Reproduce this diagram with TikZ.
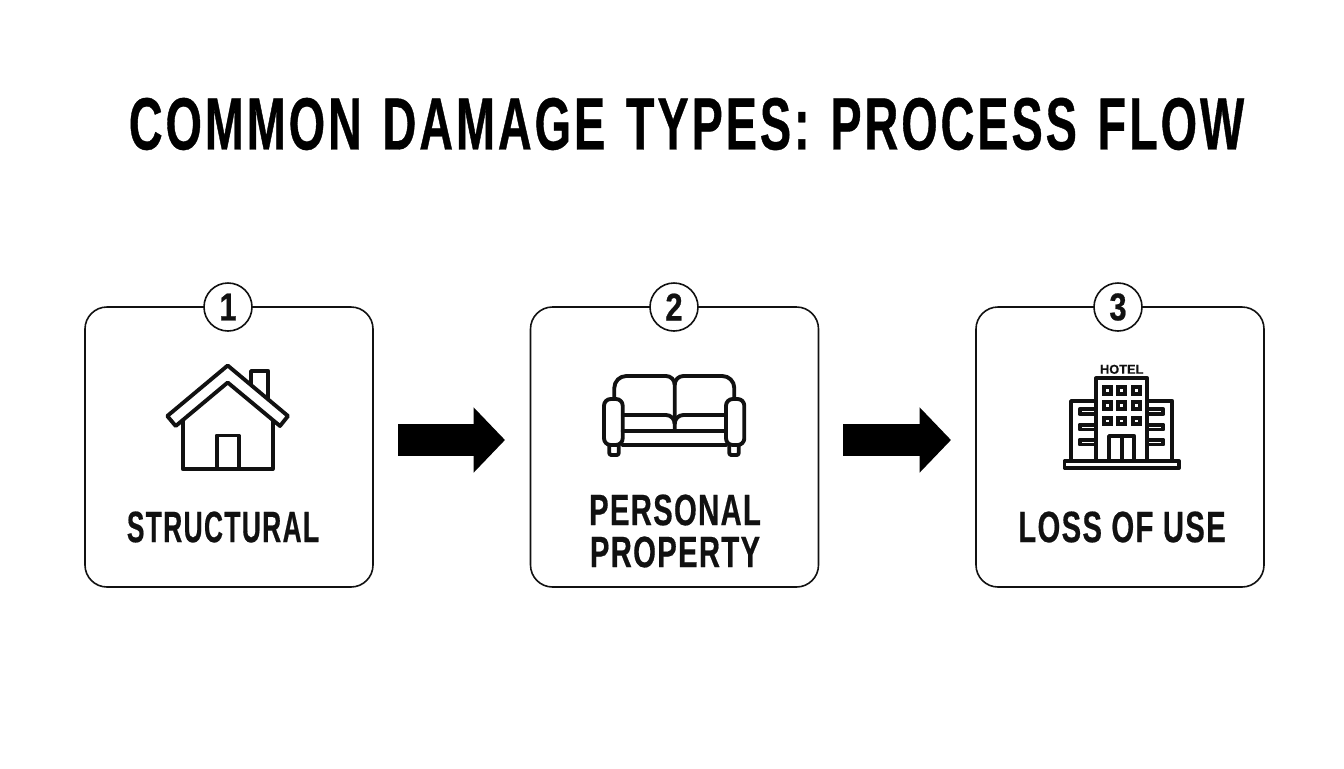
\documentclass[tikz,border=0pt]{standalone}
\usepackage{fontspec}
\setmainfont{Liberation Sans}
\newfontfamily\titlefont[FakeStretch=0.632,LetterSpace=4,FakeBold=0.5,WordSpace=1.3]{Liberation Sans Bold}
\newfontfamily\labelA[FakeStretch=0.60,LetterSpace=3,FakeBold=0.4]{Liberation Sans Bold}
\newfontfamily\labelB[FakeStretch=0.665,LetterSpace=3,FakeBold=0.4]{Liberation Sans Bold}
\newfontfamily\digitfont[FakeStretch=0.8,FakeBold=0.6]{Liberation Sans Bold}
\newfontfamily\signfont[FakeBold=0.4]{Liberation Sans Bold}
\usetikzlibrary{arrows.meta}
\definecolor{ink}{HTML}{111111}
\tikzset{
  card/.style={draw=ink,line width=1.2pt,rounded corners=16.5pt,fill=white,minimum width=216pt,minimum height=210pt,inner sep=0pt},
  badge/.style={circle,draw=ink,line width=1.2pt,fill=white,minimum size=36pt,inner sep=0pt,font=\digitfont\fontsize{29}{29}\selectfont,text=ink},
  lbl/.style={align=center,text=ink,font=\labelB\fontsize{33}{31.5}\selectfont},
  icon/.style={draw=ink,line width=2.9pt,line join=round,line cap=round},
  win/.style={draw=ink,line width=2.9pt,line join=miter,fill=white},
  flow/.style={draw=black,line width=24pt,-{Triangle[length=23.5pt,width=47.5pt,fill=black]}}
}
\begin{document}
\begin{tikzpicture}[x=0.75pt,y=-0.75pt]
\useasboundingbox (0,0) rectangle (1344,768);
\fill[white] (0,0) rectangle (1344,768);
\node[text=black,anchor=center,font=\titlefont\fontsize{55.5}{55.5}\selectfont] (title) at (686.5,124) {COMMON DAMAGE TYPES: PROCESS FLOW};
% cards
\node[card] (c1) at (229,447) {};
\node[card] (c2) at (674.5,447) {};
\node[card] (c3) at (1120,447) {};
\node[badge] (b1) at (228,307) {1};
\node[badge] (b2) at (674,307) {2};
\node[badge] (b3) at (1118,307) {3};
\node[lbl,font=\labelA\fontsize{33}{31.5}\selectfont] (l1) at (223,527) {STRUCTURAL};
\node[lbl] (l2) at (675,531) {PERSONAL\\PROPERTY};
\node[lbl] (l3) at (1122,527) {LOSS OF USE};
% arrows
\coordinate (a1s) at (398,440); \coordinate (a1e) at (505,440);
\coordinate (a2s) at (843,440); \coordinate (a2e) at (951,440);
\draw[flow] (a1s) -- (a1e);
\draw[flow] (a2s) -- (a2e);
% house
\draw[icon] (251,385) -- (251,371) -- (268.3,371) -- (268.3,398);
\draw[icon] (182.7,420) -- (182.7,469) -- (272.7,469) -- (272.7,420);
\draw[icon] (216.7,469) -- (216.7,435.5) -- (239,435.5) -- (239,469);
\draw[icon,fill=white] (227.7,365.5) -- (288,416) -- (280,426) -- (227.7,382.5) -- (175.7,426) -- (167.3,416) -- cycle;
% sofa
\draw[icon] (614.3,399) -- (614.3,388) arc[start angle=180,end angle=270,radius=12] -- (666,376) arc[start angle=270,end angle=360,radius=8.7] -- (674.7,431);
\draw[icon] (734.3,399) -- (734.3,388) arc[start angle=0,end angle=-90,radius=12] -- (683.4,376) arc[start angle=270,end angle=180,radius=8.7];
\draw[icon] (622.7,415) -- (666,415) arc[start angle=270,end angle=360,radius=8.7];
\draw[icon] (726,415) -- (683.4,415) arc[start angle=270,end angle=180,radius=8.7];
\draw[icon] (622.7,431) -- (726,431);
\draw[icon] (622.7,445) -- (726,445);
\draw[icon,rounded corners=5pt] (604,399) rectangle (622.7,445);
\draw[icon,rounded corners=5pt] (726,399) rectangle (744.3,445);
\draw[icon,rounded corners=1.5pt] (609.3,445) -- (609.3,455) -- (618.7,455) -- (618.7,445);
\draw[icon,rounded corners=1.5pt] (729.3,445) -- (729.3,455) -- (738.7,455) -- (738.7,445);
% hotel
\node[text=ink,font=\signfont\fontsize{9.6}{9.6}\selectfont,inner sep=0pt] (hotel) at (1121.7,369.3) {HOTEL};
\draw[icon] (1096,401) -- (1071,401) -- (1071,460);
\draw[icon] (1147.3,401) -- (1172.3,401) -- (1172.3,460);
\draw[icon] (1096,460) -- (1096,378.3) -- (1147.3,378.3) -- (1147.3,460);
\foreach \xx in {1107.7,1121.7,1136.3}
  \foreach \yy in {390.7,405.7,421}
    \draw[win] (\xx-3.4,\yy-3.4) rectangle (\xx+3.4,\yy+3.4);
\foreach \yy in {409.3,424.7,439.7}{
  \draw[icon] (1096,\yy) -- (1079.6,\yy) -- (1079.6,\yy+4.8) -- (1096,\yy+4.8);
  \draw[icon] (1147.3,\yy) -- (1163.4,\yy) -- (1163.4,\yy+4.8) -- (1147.3,\yy+4.8);
}
\draw[icon] (1109,460) -- (1109,436) -- (1134.3,436) -- (1134.3,460);
\draw[icon] (1121.7,436) -- (1121.7,460);
\draw[icon,fill=white] (1064.5,461) rectangle (1179,468);
\end{tikzpicture}
\end{document}
